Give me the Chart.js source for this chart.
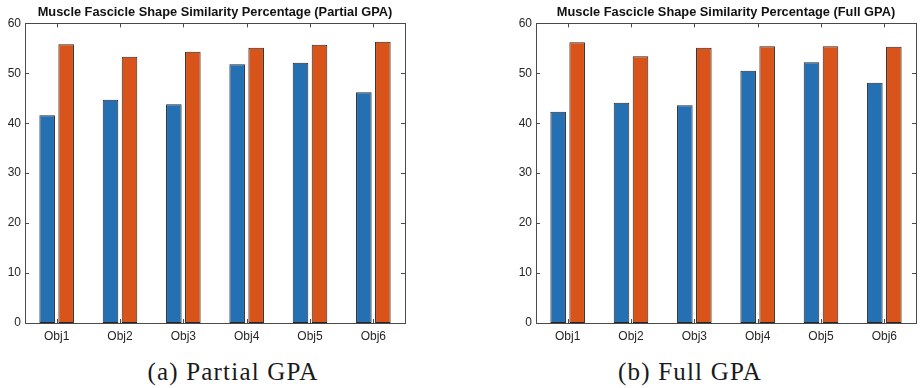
<!DOCTYPE html>
<html>
<head>
<meta charset="utf-8">
<script src="https://cdn.jsdelivr.net/npm/chart.js@4.4.1/dist/chart.umd.min.js"></script>
<style>
  html, body { margin: 0; padding: 0; background: #fff; }
  body { width: 921px; height: 388px; position: relative; overflow: hidden; }
  .panel { position: absolute; top: 0; height: 350px; }
  .caption {
    position: absolute; top: 358px; width: 300px; text-align: center;
    font-family: "Liberation Serif", "Times New Roman", serif;
    font-size: 25px; letter-spacing: 1.2px; color: #1a1a1a; line-height: 28px;
  }
</style>
</head>
<body>
<div class="panel" style="left:0; width:430px;"><canvas id="partial" width="430" height="350"></canvas></div>
<div class="panel" style="left:460px; width:461px;"><canvas id="full" width="461" height="350"></canvas></div>
<div class="caption" style="left:83px;">(a) Partial GPA</div>
<div class="caption" style="left:540px;">(b) Full GPA</div>

<script>
// Objects compared
const categories = ["Obj1", "Obj2", "Obj3", "Obj4", "Obj5", "Obj6"];

// Similarity percentages, Partial GPA
const partialFirst  = [41.6, 44.7, 43.8, 51.8, 52.1, 46.2];
const partialSecond = [55.8, 53.3, 54.3, 55.1, 55.7, 56.3];

// Similarity percentages, Full GPA
const fullFirst  = [42.3, 44.1, 43.6, 50.5, 52.2, 48.1];
const fullSecond = [56.2, 53.4, 55.1, 55.4, 55.4, 55.3];

const yTicks = [0, 10, 20, 30, 40, 50, 60];

const BLUE = "#2470b3";
const ORANGE = "#d9541a";
const EDGE = "#262626";
const AXIS = "#4a4a4a";
const TEXT = "#262626";
const SANS = "Liberation Sans, Arial, sans-serif";

// Boxed axes with short inward tick marks on all four sides
const boxTicks = {
  id: "boxTicks",
  afterDatasetsDraw(chart) {
    const { ctx, chartArea: a, scales } = chart;
    const len = 4;
    ctx.save();
    ctx.strokeStyle = AXIS;
    ctx.lineWidth = 1;
    ctx.beginPath();
    scales.y.ticks.forEach((t, i) => {
      const y = Math.round(scales.y.getPixelForTick(i)) + 0.5;
      ctx.moveTo(a.left, y); ctx.lineTo(a.left + len, y);
      ctx.moveTo(a.right, y); ctx.lineTo(a.right - len, y);
    });
    scales.x.ticks.forEach((t, i) => {
      const x = Math.round(scales.x.getPixelForTick(i)) + 0.5;
      ctx.moveTo(x, a.top); ctx.lineTo(x, a.top + len);
      ctx.moveTo(x, a.bottom); ctx.lineTo(x, a.bottom - len);
    });
    ctx.stroke();
    ctx.strokeRect(Math.round(a.left) + 0.5, Math.round(a.top) + 0.5,
                   Math.round(a.right - a.left), Math.round(a.bottom - a.top));
    ctx.restore();
  }
};

function makeChart(id, title, first, second, yWidth, rightPad) {
  return new Chart(document.getElementById(id), {
    type: "bar",
    data: {
      labels: categories,
      datasets: [
        { data: first, backgroundColor: BLUE, borderColor: EDGE, borderWidth: 1, borderSkipped: false },
        { data: second, backgroundColor: ORANGE, borderColor: EDGE, borderWidth: 1, borderSkipped: false }
      ]
    },
    options: {
      responsive: false,
      animation: false,
      events: [],
      categoryPercentage: 0.6,
      barPercentage: 0.82,
      layout: { padding: { left: 0, right: rightPad, top: 0, bottom: 0 } },
      plugins: {
        legend: { display: false },
        tooltip: { enabled: false },
        title: {
          display: true,
          text: title,
          fullSize: false,
          color: "#111",
          font: { family: SANS, size: 12.8, weight: "bold" },
          padding: { top: 5, bottom: 3 }
        }
      },
      scales: {
        x: {
          grid: { display: false, drawTicks: false },
          border: { display: false },
          ticks: { color: TEXT, padding: 6, font: { family: SANS, size: 12 } },
          afterFit(s) { s.height = 27; }
        },
        y: {
          min: 0, max: 60,
          grid: { display: false, drawTicks: false },
          border: { display: false },
          afterBuildTicks(s) { s.ticks = yTicks.map(v => ({ value: v })); },
          ticks: { color: TEXT, padding: 4, font: { family: SANS, size: 12 } },
          afterFit(s) { s.width = yWidth; }
        }
      }
    },
    plugins: [boxTicks]
  });
}

makeChart("partial", "Muscle Fascicle Shape Similarity Percentage (Partial GPA)", partialFirst, partialSecond, 25, 25);
makeChart("full", "Muscle Fascicle Shape Similarity Percentage (Full GPA)", fullFirst, fullSecond, 76, 5);
</script>
</body>
</html>
